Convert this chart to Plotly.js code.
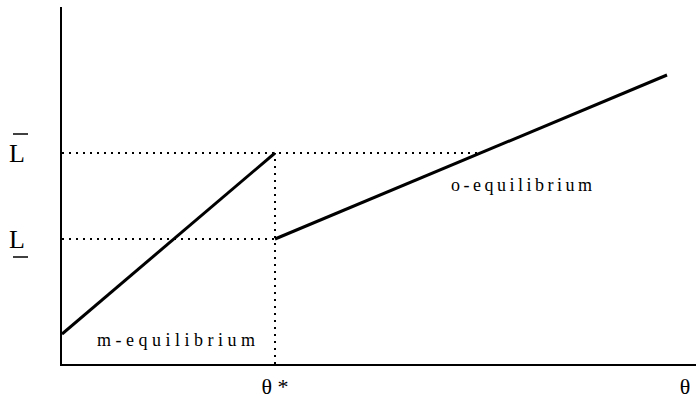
<!DOCTYPE html>
<html>
<head>
<meta charset="utf-8">
<script src="https://cdn.plot.ly/plotly-3.0.1.min.js"></script>
<style>html,body{margin:0;padding:0;background:#fff;}#chart{width:696px;height:399px;}</style>
</head>
<body>
<div id="chart"></div>
<script>
// Schematic values (arbitrary units)
const thetaStart = 0;
const thetaStar = 2.13;
const thetaEnd = 6.05;
const thetaLabelPos = 6.23;
const mEqY = [0.30, 2.11];      // m-equilibrium: from start to theta*
const oEqY = [1.25, 2.89];      // o-equilibrium: from theta* to end
const Lbar = 2.11;
const Lunder = 1.25;
const xTickVals = [thetaStar, thetaLabelPos];
const xTickText = ['θ *', 'θ'];
const yTickVals = [Lunder, Lbar];
const yTickText = ['L', 'L'];
const xMax = 6.34;
const yMax = 3.57;

// x where o-equilibrium line reaches Lbar
const oSlope = (oEqY[1] - oEqY[0]) / (thetaEnd - thetaStar);
const xMeet = thetaStar + (Lbar - oEqY[0]) / oSlope;

const font = '"Liberation Serif", "Times New Roman", serif';
const dot = {color: '#000', width: 2, dash: '2px,5px'};
const solid = {color: '#000', width: 3};

const traces = [
  {x: [thetaStart, xMeet], y: [Lbar, Lbar], mode: 'lines', line: dot, hoverinfo: 'skip'},
  {x: [thetaStart, thetaStar], y: [Lunder, Lunder], mode: 'lines', line: dot, hoverinfo: 'skip'},
  {x: [thetaStar, thetaStar], y: [0, Lbar], mode: 'lines', line: dot, hoverinfo: 'skip'},
  {x: [thetaStart, thetaStar], y: mEqY, mode: 'lines', line: solid, name: 'm-equilibrium'},
  {x: [thetaStar, thetaEnd], y: oEqY, mode: 'lines', line: solid, name: 'o-equilibrium'}
];

const barStyle = {color: '#000', width: 1.5};
const layout = {
  width: 696, height: 399,
  margin: {l: 62, r: 0, t: 7, b: 35},
  paper_bgcolor: '#fff', plot_bgcolor: '#fff',
  showlegend: false,
  font: {family: font, color: '#000'},
  xaxis: {
    range: [0, xMax], showgrid: false, zeroline: false,
    showline: true, linecolor: '#000', linewidth: 2,
    tickvals: xTickVals, ticktext: xTickText, ticks: '',
    tickfont: {family: font, size: 22, color: '#000'},
    ticklabelstandoff: 2
  },
  yaxis: {
    range: [0, yMax], showgrid: false, zeroline: false,
    showline: true, linecolor: '#000', linewidth: 2,
    tickvals: yTickVals, ticktext: yTickText, ticks: '',
    tickfont: {family: font, size: 26, color: '#000'},
    ticklabelstandoff: 30
  },
  shapes: [
    {type: 'line', xref: 'paper', yref: 'y', layer: 'above',
     xsizemode: 'pixel', xanchor: 0, x0: -49, x1: -34,
     ysizemode: 'pixel', yanchor: Lbar, y0: 19, y1: 19, line: barStyle},
    {type: 'line', xref: 'paper', yref: 'y', layer: 'above',
     xsizemode: 'pixel', xanchor: 0, x0: -49, x1: -34,
     ysizemode: 'pixel', yanchor: Lunder, y0: -18, y1: -18, line: barStyle}
  ],
  annotations: [
    {x: 1.16, y: 0.24, xref: 'x', yref: 'y', showarrow: false,
     text: '<span style="letter-spacing:4.5px">m-equilibrium</span>', font: {family: font, size: 18, color: '#000'}},
    {x: 4.61, y: 1.79, xref: 'x', yref: 'y', showarrow: false,
     text: '<span style="letter-spacing:3.5px">o-equilibrium</span>', font: {family: font, size: 18, color: '#000'}}
  ]
};

Plotly.newPlot('chart', traces, layout, {displayModeBar: false, staticPlot: true});
</script>
</body>
</html>
